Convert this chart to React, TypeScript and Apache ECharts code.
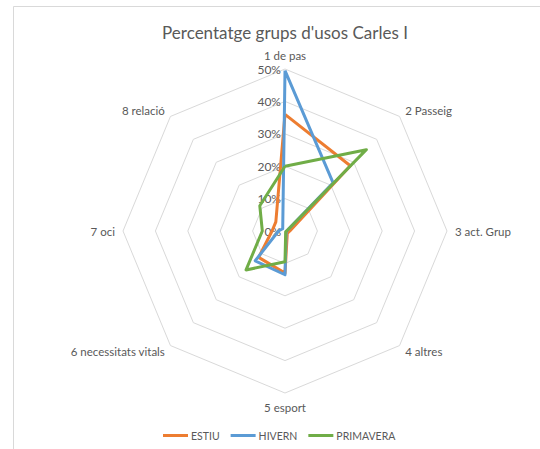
import React, { useEffect, useRef } from "react";
import * as echarts from "echarts";

const TITLE = "Percentatge grups d'usos Carles I";
const categories = [
  "1 de pas",
  "2 Passeig",
  "3 act. Grup",
  "4 altres",
  "5 esport",
  "6 necessitats vitals",
  "7 oci",
  "8 relació",
];
const seriesNames = ["ESTIU", "HIVERN", "PRIMAVERA"];
const estiu = [36, 28.5, 1.5, 1, 13, 11.5, 4, 4];
const hivern = [49.5, 21, 0.5, 0.5, 13.5, 13, 2, 1];
const primavera = [20, 35.5, 0.5, 0.3, 9.5, 17, 7, 11];
const colors = ["#ED7D31", "#5B9BD5", "#70AD47"];
const AXIS_MAX = 50;

// ECharts places radar indicators counter-clockwise; Excel goes clockwise.
const order = [0, ...categories.map((_, i) => categories.length - 1 - i).slice(0, categories.length - 1)];
const reorder = <T,>(arr: T[]) => order.map((i) => arr[i]);

export default function App() {
  const ref = useRef<HTMLDivElement>(null);
  useEffect(() => {
    if (!ref.current) return;
    const chart = echarts.init(ref.current, undefined, { renderer: "svg" });
    const font = "Lato, 'Open Sans', sans-serif";
    const indicator = reorder(categories).map((name, i) => {
      const ind: any = { name, max: AXIS_MAX, min: 0 };
      if (i === 0) {
        ind.axisLabel = {
          show: true,
          formatter: "{value}%",
          color: "#595959",
          fontSize: 12,
          fontFamily: font,
          margin: 4,
        };
      }
      return ind;
    });
    const data = [estiu, hivern, primavera];
    chart.setOption({
      animation: false,
      backgroundColor: "#ffffff",
      title: {
        text: TITLE,
        left: 280,
        top: 19,
        textAlign: "center",
        textStyle: {
          color: "#595959",
          fontSize: 17,
          fontWeight: "normal",
          fontFamily: font,
        },
      },
      legend: {
        data: seriesNames,
        left: 158,
        top: 425,
        itemWidth: 25,
        itemHeight: 3,
        itemGap: 11,
        icon: "rect",
        textStyle: { color: "#595959", fontSize: 10.5, fontFamily: font, padding: [0, 0, 0, -2] },
      },
      graphic: [
        {
          type: "rect",
          shape: { x: 13.5, y: 6.5, width: 700, height: 700 },
          style: { fill: "none", stroke: "#D9D9D9", lineWidth: 1 },
          silent: true,
        },
      ],
      radar: {
        center: [285, 231],
        radius: 162,
        shape: "polygon",
        splitNumber: 5,
        indicator,
        axisName: { color: "#595959", fontSize: 11.5, fontFamily: font },
        nameGap: 8,
        axisLine: { show: false },
        axisTick: { show: false },
        axisLabel: { show: false },
        splitLine: { lineStyle: { color: "#D9D9D9", width: 1 } },
        splitArea: { show: false },
      },
      series: [
        {
          type: "radar",
          symbol: "none",
          data: seriesNames.map((name, i) => ({
            name,
            value: reorder(data[i]),
            lineStyle: { color: colors[i], width: 3 },
            itemStyle: { color: colors[i] },
          })),
        },
      ],
    });
    return () => chart.dispose();
  }, []);
  return (
    <div
      ref={ref}
      style={{ position: "fixed", left: 0, top: 0, width: 540, height: 449 }}
    />
  );
}
